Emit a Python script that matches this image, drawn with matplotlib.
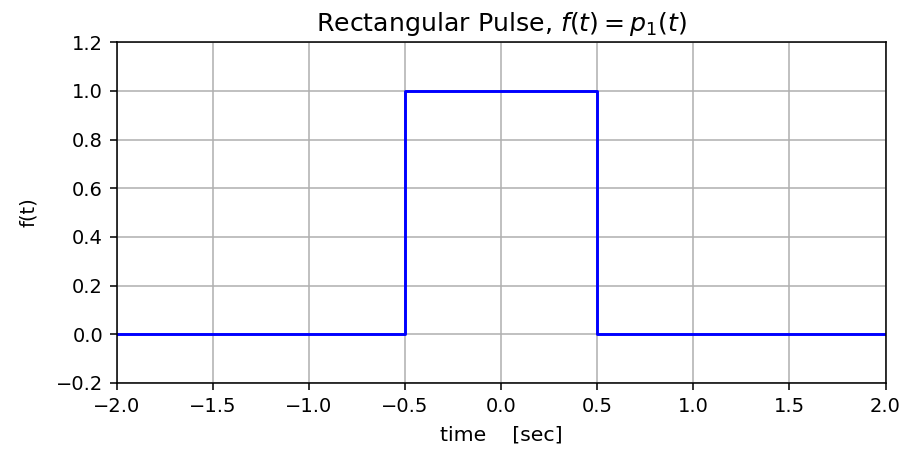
import matplotlib
matplotlib.use("Agg")
import matplotlib.pyplot as plt

# pulse corners
t = [-2.0, -0.5, -0.5, 0.5, 0.5, 2.0]
f = [0.0, 0.0, 1.0, 1.0, 0.0, 0.0]

fig = plt.figure(figsize=(912 / 140, 449 / 140), dpi=140)
ax = fig.add_axes([0.128, 0.147, 0.843, 0.759])
ax.plot(t, f, color='blue', linewidth=1.5)
ax.set_xlim(-2, 2)
ax.set_ylim(-0.2, 1.2)
ax.grid(True)
ax.set_title(r'Rectangular Pulse, $f(t) = p_1(t)$', fontsize=13)
ax.set_xlabel('time    [sec]', fontsize=10.5, labelpad=5)
ax.set_ylabel('f(t)', fontsize=10, labelpad=9)
ax.tick_params(labelsize=10)

fig.savefig('out.png', dpi=140)
